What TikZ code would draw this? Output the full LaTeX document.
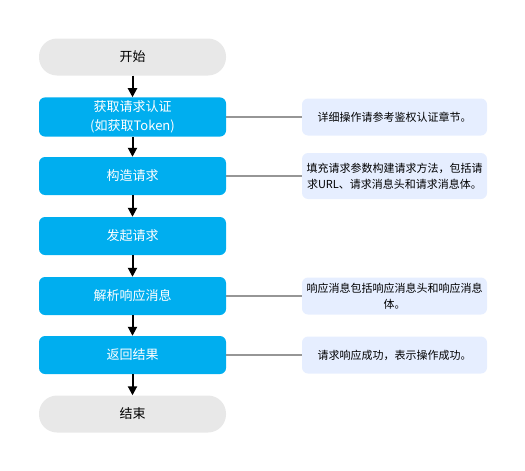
\documentclass[tikz,border=0pt]{standalone}
\usepackage{fontspec}
\usetikzlibrary{arrows.meta}
\setmainfont{Noto Sans CJK SC}
\definecolor{stepblue}{RGB}{0,174,239}
\definecolor{endgray}{RGB}{232,232,232}
\definecolor{notefill}{RGB}{230,238,255}
\definecolor{linkgray}{RGB}{150,150,150}
\tikzset{
  terminal/.style={fill=endgray, rounded corners=18pt, minimum width=187pt, minimum height=37pt,
    font=\fontsize{13}{19}\selectfont},
  stepbox/.style={fill=stepblue, text=white, rounded corners=6pt, minimum width=187pt, minimum height=38pt,
    align=center, font=\fontsize{13}{19}\selectfont},
  notebox/.style={fill=notefill, rounded corners=6pt, minimum width=185pt, minimum height=37pt,
    align=center, font=\fontsize{11}{16}\selectfont},
  link/.style={draw=linkgray, line width=1.6pt}
}
\begin{document}
\begin{tikzpicture}[>={Triangle[length=9pt,width=9pt]}, x=1pt, y=-1pt]
\useasboundingbox (0,0) rectangle (525,471);
\node[terminal] (start) at (132.5, 57) {开始};
\node[stepbox] (auth) at (132.5, 117) {获取请求认证\\(如获取Token)};
\node[stepbox] (build) at (132.5, 176) {构造请求};
\node[stepbox] (send) at (132.5, 236) {发起请求};
\node[stepbox] (parse) at (132.5, 296) {解析响应消息};
\node[stepbox] (result) at (132.5, 355) {返回结果};
\node[terminal] (stop) at (132.5, 414) {结束};
\node[notebox] (noteauth) at (394.5, 117) {详细操作请参考鉴权认证章节。};
\node[notebox, minimum height=46pt] (notebuild) at (394.5, 176) {填充请求参数构建请求方法，包括请\\求URL、请求消息头和请求消息体。};
\node[notebox] (noteparse) at (394.5, 296) {响应消息包括响应消息头和响应消息\\体。};
\node[notebox] (noteresult) at (394.5, 355) {请求响应成功，表示操作成功。};
\draw[->, line width=2pt] (start) -- (auth);
\draw[->, line width=2pt] (auth) -- (build);
\draw[->, line width=2pt] (build) -- (send);
\draw[->, line width=2pt] (send) -- (parse);
\draw[->, line width=2pt] (parse) -- (result);
\draw[->, line width=2pt] (result) -- (stop);
\draw[link] (auth) -- (noteauth);
\draw[link] (build) -- (notebuild);
\draw[link] (parse) -- (noteparse);
\draw[link] (result) -- (noteresult);
\end{tikzpicture}
\end{document}
